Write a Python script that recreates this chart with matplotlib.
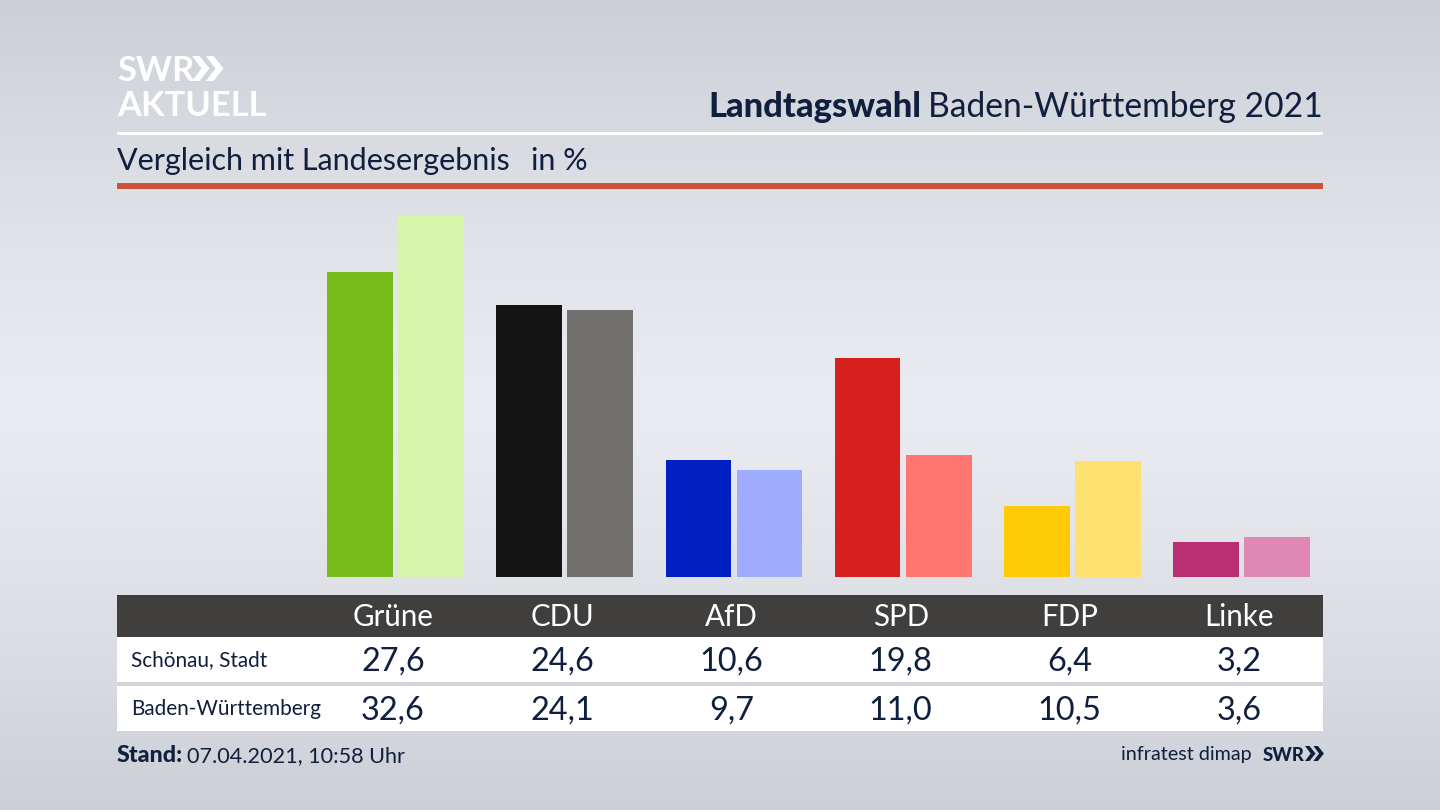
import numpy as np
from matplotlib import pyplot as plt
from matplotlib.patches import Rectangle

plt.rcParams['font.family'] = ['Lato', 'DejaVu Sans']

parteien = ['Grüne', 'CDU', 'AfD', 'SPD', 'FDP', 'Linke']
schoenau = [27.6, 24.6, 10.6, 19.8, 6.4, 3.2]
land = [32.6, 24.1, 9.7, 11.0, 10.5, 3.6]
farben_schoenau = ['#78bc1b', '#141414', '#0020c4', '#d61f1f', '#ffcb08', '#ba2e74']
farben_land = ['#d6f5aa', '#72716f', '#9eabff', '#ff7670', '#ffe171', '#df88b6']
zeile1 = 'Schönau, Stadt'
zeile2 = 'Baden-Württemberg'

DUNKEL = '#0f1f3d'
W, H = 1440, 810

fig = plt.figure(figsize=(14.4, 8.1), dpi=100)

# hintergrund und alles was in pixeln liegt
bg = fig.add_axes([0, 0, 1, 1])
bg.set_xlim(0, W)
bg.set_ylim(H, 0)
bg.axis('off')
verlauf = np.abs(np.linspace(-1, 1, 256)) ** 1.3
c_mitte = np.array([233, 235, 240]) / 255
c_rand = np.array([204, 207, 214]) / 255
bild = c_mitte + (c_rand - c_mitte) * verlauf[:, None]
bg.imshow(bild[:, None, :], extent=[0, W, H, 0], aspect='auto', zorder=0)


def balken(x0, y0, x1, y1, farbe):
    bg.add_patch(Rectangle((x0, y0), x1 - x0, y1 - y0, color=farbe, lw=0, zorder=1))


def text(x, y, s, px, farbe=DUNKEL, ha='left', gewicht='normal'):
    bg.text(x, y, s, fontsize=px * 0.72, color=farbe, ha=ha, va='baseline',
            fontweight=gewicht, zorder=3)


def pfeile(x, y, h, farbe):
    # die zwei winkel hinter SWR
    for dx in (0, h * 0.56):
        pts = [(x + dx, y - h), (x + dx + h * 0.3, y - h), (x + dx + h * 0.7, y - h / 2),
               (x + dx + h * 0.3, y), (x + dx, y), (x + dx + h * 0.38, y - h / 2)]
        bg.add_patch(plt.Polygon(pts, color=farbe, lw=0, zorder=3))


# kopf
balken(117, 132, 1323, 135, 'white')
balken(117, 183, 1323, 189, '#cd5239')
text(117, 81, 'SWR', 34.5, 'white', gewicht='bold')
pfeile(192, 81, 25, 'white')
text(117, 116, 'AKTUELL', 34.5, 'white', gewicht='bold')
text(1323, 117, 'Baden-Württemberg 2021', 33.6, ha='right')
text(921, 117, 'Landtagswahl', 34.5, ha='right', gewicht='black')
text(117, 170, 'Vergleich mit Landesergebnis', 30.5)
text(531, 170, 'in %', 30.5)

# balken
ax = fig.add_axes([117 / W, 1 - 577 / H, 1206 / W, 372 / H])
ax.patch.set_alpha(0)
ax.axis('off')
abstand = 169.2
breite = 65.7 / abstand
x = np.arange(len(parteien))
ax.bar(x - 33 / abstand, schoenau, width=breite, color=farben_schoenau)
ax.bar(x + 38.1 / abstand, land, width=breite, color=farben_land)
ax.set_xlim((117 - 393) / abstand, (1323 - 393) / abstand)
ax.set_ylim(0, 372 / 11.06)

# tabelle
balken(117, 595, 1323, 637, '#403f3d')
balken(117, 637, 1323, 682, 'white')
balken(117, 682, 1323, 686, '#d3d5da')
balken(117, 686, 1323, 731, 'white')
for i, p in enumerate(parteien):
    xp = 393 + i * abstand
    text(xp, 626, p, 29.5, 'white', ha='center')
    text(xp, 671, f'{schoenau[i]:.1f}'.replace('.', ','), 32.5, ha='center')
    text(xp, 720, f'{land[i]:.1f}'.replace('.', ','), 32.5, ha='center')
text(131, 666, zeile1, 20.8)
text(131, 715, zeile2, 20.8)

# fuss
text(117, 762, 'Stand:', 23.3, gewicht='black')
text(187, 762, '07.04.2021, 10:58 Uhr', 21.6)
text(1252, 760, 'infratest dimap', 19.8, ha='right')
text(1263, 761, 'SWR', 18.5, gewicht='black')
pfeile(1305, 761, 15, DUNKEL)

fig.savefig('out.png', dpi=100)
